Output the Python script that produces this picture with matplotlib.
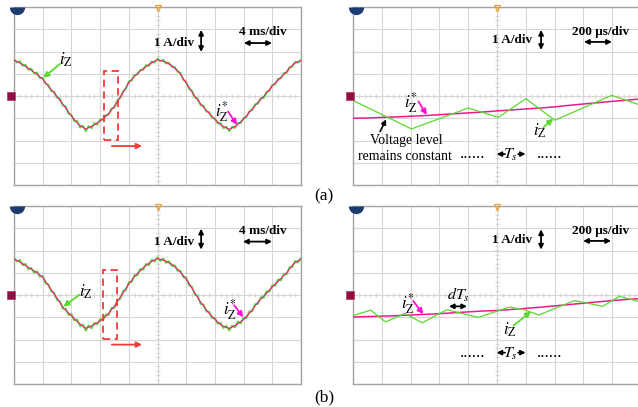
import matplotlib.pyplot as plt
import numpy as np
from matplotlib.patches import Rectangle

plt.rcParams['font.family'] = ['Liberation Serif', 'DejaVu Serif']
plt.rcParams['mathtext.fontset'] = 'stix'

W, H = 638, 407
GRID = '#d6d6d6'
FRAME = '#a4a4a4'
GREEN = '#5ad82e'
PINK = '#ec1b8c'
RED = '#f03a3a'

# 4 ms/div traces, sampled in divisions (x: 0..10, y: -4..4)
slow_ref_t = np.round(np.arange(0, 10.01, 0.25), 2)
slow_meas_t = np.round(np.arange(0, 10.01, 0.1), 2)

ref_a = [1.62, 1.45, 1.25, 1.02, 0.76, 0.35, -0.02, -0.45, -0.90, -1.28,
         -1.48, -1.34, -1.12, -0.86, -0.46, 0.05, 0.60, 0.96, 1.23, 1.46,
         1.63, 1.55, 1.36, 1.08, 0.58, 0.08, -0.35, -0.71, -1.06, -1.34,
         -1.50, -1.33, -1.04, -0.66, -0.28, 0.05, 0.45, 0.78, 1.10, 1.45,
         1.60]
meas_a = [1.64, 1.50, 1.57, 1.36, 1.40, 1.18, 1.23, 1.02, 1.06, 0.80,
          0.82, 0.55, 0.50, 0.22, 0.20, -0.08, -0.12, -0.43, -0.46, -0.80,
          -0.84, -1.13, -1.12, -1.42, -1.34, -1.58, -1.35, -1.45, -1.22, -1.29,
          -1.05, -1.08, -0.86, -0.84, -0.55, -0.52, -0.20, -0.10, 0.22, 0.33,
          0.66, 0.69, 0.95, 0.96, 1.18, 1.17, 1.39, 1.35, 1.56, 1.50,
          1.68, 1.56, 1.63, 1.45, 1.50, 1.30, 1.31, 1.08, 1.04, 0.72,
          0.64, 0.32, 0.24, -0.07, -0.12, -0.41, -0.43, -0.70, -0.72, -0.98,
          -1.00, -1.24, -1.22, -1.45, -1.38, -1.58, -1.38, -1.44, -1.21, -1.22,
          -0.98, -0.95, -0.68, -0.64, -0.37, -0.35, -0.09, -0.09, 0.19, 0.23,
          0.51, 0.52, 0.77, 0.79, 1.03, 1.04, 1.30, 1.32, 1.54, 1.50,
          1.62]

ref_b = [1.63, 1.45, 1.24, 1.04, 0.80, 0.33, -0.15, -0.62, -0.93, -1.25,
         -1.50, -1.36, -1.16, -0.90, -0.50, 0.00, 0.50, 0.90, 1.22, 1.48,
         1.64, 1.55, 1.38, 1.10, 0.72, 0.20, -0.32, -0.75, -1.10, -1.38,
         -1.50, -1.34, -1.10, -0.75, -0.32, 0.02, 0.36, 0.68, 1.00, 1.42,
         1.62]
meas_b = [1.66, 1.50, 1.58, 1.34, 1.40, 1.15, 1.22, 1.00, 1.07, 0.82,
          0.86, 0.52, 0.48, 0.15, 0.10, -0.23, -0.28, -0.62, -0.61, -0.90,
          -0.86, -1.15, -1.10, -1.40, -1.33, -1.60, -1.37, -1.50, -1.24, -1.33,
          -1.08, -1.15, -0.87, -0.90, -0.57, -0.58, -0.22, -0.18, 0.18, 0.22,
          0.58, 0.58, 0.90, 0.88, 1.17, 1.13, 1.40, 1.34, 1.59, 1.50,
          1.70, 1.53, 1.64, 1.44, 1.52, 1.30, 1.34, 1.08, 1.09, 0.79,
          0.79, 0.43, 0.37, 0.02, -0.04, -0.40, -0.42, -0.74, -0.75, -1.04,
          -1.03, -1.29, -1.25, -1.49, -1.39, -1.60, -1.38, -1.46, -1.19, -1.28,
          -1.02, -1.04, -0.74, -0.74, -0.41, -0.40, -0.10, -0.13, 0.17, 0.15,
          0.44, 0.41, 0.70, 0.66, 0.95, 0.92, 1.25, 1.26, 1.54, 1.46,
          1.65]

# 200 us/div zoom, reference samples every half division
fast_ref_t = np.round(np.arange(0, 10.01, 0.5), 2)
fast_ref_a = [-1.00, -0.99, -0.96, -0.94, -0.91, -0.88, -0.84, -0.80, -0.76, -0.72,
              -0.67, -0.63, -0.58, -0.54, -0.49, -0.42, -0.36, -0.30, -0.24, -0.19,
              -0.13]
fast_ref_b = [-0.99, -0.97, -0.95, -0.93, -0.90, -0.87, -0.84, -0.80, -0.76, -0.72,
              -0.70, -0.65, -0.60, -0.55, -0.49, -0.43, -0.37, -0.31, -0.25, -0.20,
              -0.16]

# measured current vertices (switching instants)
fast_meas_a_t = [0, 2.03, 4.0, 5.05, 6.0, 7.01, 8.98, 10.0]
fast_meas_a = [-0.20, -1.48, -0.54, -0.96, -0.12, -1.09, 0.03, -0.42]
fast_meas_b_t = [0, 0.61, 1.13, 1.8, 2.4, 3.26, 4.35, 5.43, 5.95, 6.45,
                 7.69, 8.67, 9.25, 10.0]
fast_meas_b = [-0.93, -0.68, -1.21, -0.83, -1.25, -0.66, -1.01, -0.54, -0.66, -0.90,
               -0.25, -0.51, -0.06, -0.32]


def scope_axes(fig, left, top, width, height=178):
    ax = fig.add_axes([left / W, 1 - (top + height) / H, width / W, height / H])
    ax.set_xlim(0, 10)
    ax.set_ylim(-4, 4)
    ax.set_xticks(range(11))
    ax.set_yticks(range(-4, 5))
    ax.tick_params(length=0, labelbottom=False, labelleft=False)
    ax.grid(color=GRID, lw=0.8)
    ax.set_axisbelow(True)
    for s in ax.spines.values():
        s.set_color(FRAME)
        s.set_linewidth(1.0)
    # graduations on the centre cross
    fine_x = np.arange(0, 10.01, 0.2)
    fine_y = np.arange(-4, 4.01, 0.2)
    ax.plot(fine_x, np.zeros_like(fine_x), ls='none', marker='|', ms=3,
            mew=0.8, color=GRID, zorder=1)
    ax.plot(np.full_like(fine_y, 5), fine_y, ls='none', marker='_', ms=3,
            mew=0.8, color=GRID, zorder=1)
    # channel badge, trigger point and ground level
    ax.plot(0.12, 4.0, marker='o', fillstyle='bottom', ms=11, mew=0,
            color='#1c3c70', markerfacecoloralt='none', clip_on=False, zorder=5)
    ax.plot(5, 3.97, marker='v', ms=4, mfc='none', mec='#f0a030', mew=0.9,
            clip_on=False, zorder=5)
    ax.plot(-0.12, 0, marker='s', ms=5.5, color='#8e1040', mec='#c04070',
            mew=0.6, clip_on=False, zorder=5)
    return ax


def scale_marks(ax, amp_xy, v_arrow, time_text, time_xy, h_arrow):
    ax.text(*amp_xy, '1 A/div', fontsize=9.5, fontweight='bold',
            ha='center', va='center')
    ax.annotate('', xy=(v_arrow[0], v_arrow[1]), xytext=(v_arrow[0], v_arrow[2]),
                arrowprops=dict(arrowstyle='<|-|>', color='black', lw=1.3,
                                mutation_scale=7, shrinkA=0, shrinkB=0))
    ax.text(*time_xy, time_text, fontsize=9.5, fontweight='bold',
            ha='center', va='center')
    ax.annotate('', xy=(h_arrow[0], h_arrow[2]), xytext=(h_arrow[1], h_arrow[2]),
                arrowprops=dict(arrowstyle='<|-|>', color='black', lw=1.3,
                                mutation_scale=7, shrinkA=0, shrinkB=0))


def pointer(ax, text, text_xy, tail, head, color):
    ax.text(*text_xy, text, fontsize=12, ha='center', va='center')
    ax.annotate('', xy=head, xytext=tail,
                arrowprops=dict(arrowstyle='-|>', color=color, lw=1.3,
                                mutation_scale=8, shrinkA=0, shrinkB=0))


def period_marks(ax, y):
    ax.text(4.17, y, '......', fontsize=12.5, ha='center', va='center')
    ax.text(6.83, y, '......', fontsize=12.5, ha='center', va='center')
    ax.text(5.48, y - 0.05, r'$T_s$', fontsize=11.5, ha='center', va='center')
    for a, b in [(5.28, 4.99), (5.73, 5.99)]:
        ax.annotate('', xy=(b, y), xytext=(a, y),
                    arrowprops=dict(arrowstyle='-|>', color='black', lw=1.2,
                                    mutation_scale=7, shrinkA=0, shrinkB=0))


fig = plt.figure(figsize=(W / 100, H / 100), dpi=100)

iz = r'$i_{\mathrm{Z}}$'
iz_ref = r'$i_{\mathrm{Z}}^{*}$'

# (a) left: 4 ms/div
ax = scope_axes(fig, 14, 7, 287)
ax.plot(slow_meas_t, meas_a, color=GREEN, lw=1.3, zorder=3)
ax.plot(slow_ref_t, ref_a, color=PINK, lw=0.8, zorder=4)
scale_marks(ax, (5.56, 2.38), (6.52, 2.97, 1.98), '4 ms/div', (8.66, 2.88),
            (8.01, 8.99, 2.38))
pointer(ax, iz, (1.80, 1.62), (1.60, 1.44), (1.02, 0.82), GREEN)
pointer(ax, iz_ref, (7.25, -0.72), (7.46, -0.70), (7.77, -1.30), '#ff10d0')
ax.add_patch(Rectangle((3.14, -1.98), 0.48, 3.10, fill=False, ec=RED, lw=1.3,
                       ls=(0, (4, 2.5)), zorder=6))
ax.annotate('', xy=(4.46, -2.25), xytext=(3.41, -2.25),
            arrowprops=dict(arrowstyle='-|>', color=RED, lw=1.3,
                            mutation_scale=8, shrinkA=0, shrinkB=0))

# (a) right: 200 us/div
ax = scope_axes(fig, 353, 7, 288)
ax.plot(fast_ref_t, fast_ref_a, color=PINK, lw=1.1, zorder=3)
ax.plot(fast_meas_a_t, fast_meas_a, color=GREEN, lw=0.9, zorder=4)
scale_marks(ax, (5.54, 2.52), (6.53, 2.97, 2.07), '200 μs/div', (8.61, 2.88),
            (8.02, 8.99, 2.43))
pointer(ax, iz_ref, (2.01, -0.31), (2.27, -0.24), (2.56, -0.85), '#ff10d0')
pointer(ax, iz, (6.49, -1.57), (6.61, -1.41), (6.95, -1.02), GREEN)
ax.text(1.84, -2.02, 'Voltage level', fontsize=10, ha='center', va='center')
ax.text(1.81, -2.74, 'remains constant', fontsize=10, ha='center', va='center')
ax.annotate('', xy=(1.15, -1.05), xytext=(0.94, -1.60),
            arrowprops=dict(arrowstyle='-|>', color='black', lw=1.2,
                            mutation_scale=7, shrinkA=0, shrinkB=0))
period_marks(ax, -2.61)

# (b) left: 4 ms/div
ax = scope_axes(fig, 14, 206, 287)
ax.plot(slow_meas_t, meas_b, color=GREEN, lw=1.3, zorder=3)
ax.plot(slow_ref_t, ref_b, color=PINK, lw=0.8, zorder=4)
scale_marks(ax, (5.57, 2.40), (6.52, 2.98, 2.04), '4 ms/div', (8.66, 2.89),
            (7.98, 8.99, 2.40))
pointer(ax, iz, (2.50, 0.15), (2.28, 0.01), (1.72, -0.52), GREEN)
pointer(ax, iz_ref, (7.51, -0.66), (7.67, -0.46), (7.99, -1.00), '#ff10d0')
ax.add_patch(Rectangle((3.10, -1.96), 0.49, 3.10, fill=False, ec=RED, lw=1.3,
                       ls=(0, (4, 2.5)), zorder=6))
ax.annotate('', xy=(4.46, -2.23), xytext=(3.41, -2.23),
            arrowprops=dict(arrowstyle='-|>', color=RED, lw=1.3,
                            mutation_scale=8, shrinkA=0, shrinkB=0))

# (b) right: 200 us/div
ax = scope_axes(fig, 353, 206, 288)
ax.plot(fast_ref_t, fast_ref_b, color=PINK, lw=1.1, zorder=3)
ax.plot(fast_meas_b_t, fast_meas_b, color=GREEN, lw=0.9, zorder=4)
scale_marks(ax, (5.51, 2.49), (6.53, 2.95, 2.04), '200 μs/div', (8.61, 2.89),
            (7.99, 8.96, 2.43))
pointer(ax, iz_ref, (1.91, -0.39), (2.09, -0.27), (2.44, -0.86), '#ff10d0')
pointer(ax, iz, (5.45, -1.56), (5.57, -1.38), (6.18, -0.74), GREEN)
ax.text(3.65, 0.0, r'$dT_s$', fontsize=11.5, ha='center', va='center')
ax.annotate('', xy=(3.33, -0.51), xytext=(3.96, -0.51),
            arrowprops=dict(arrowstyle='<|-|>', color='black', lw=1.3,
                            mutation_scale=7, shrinkA=0, shrinkB=0))
period_marks(ax, -2.59)

fig.text(324 / W, 1 - 196 / H, '(a)', fontsize=12.5, ha='center', va='center')
fig.text(324 / W, 1 - 397 / H, '(b)', fontsize=12.5, ha='center', va='center')

fig.savefig('out.png', dpi=100)
